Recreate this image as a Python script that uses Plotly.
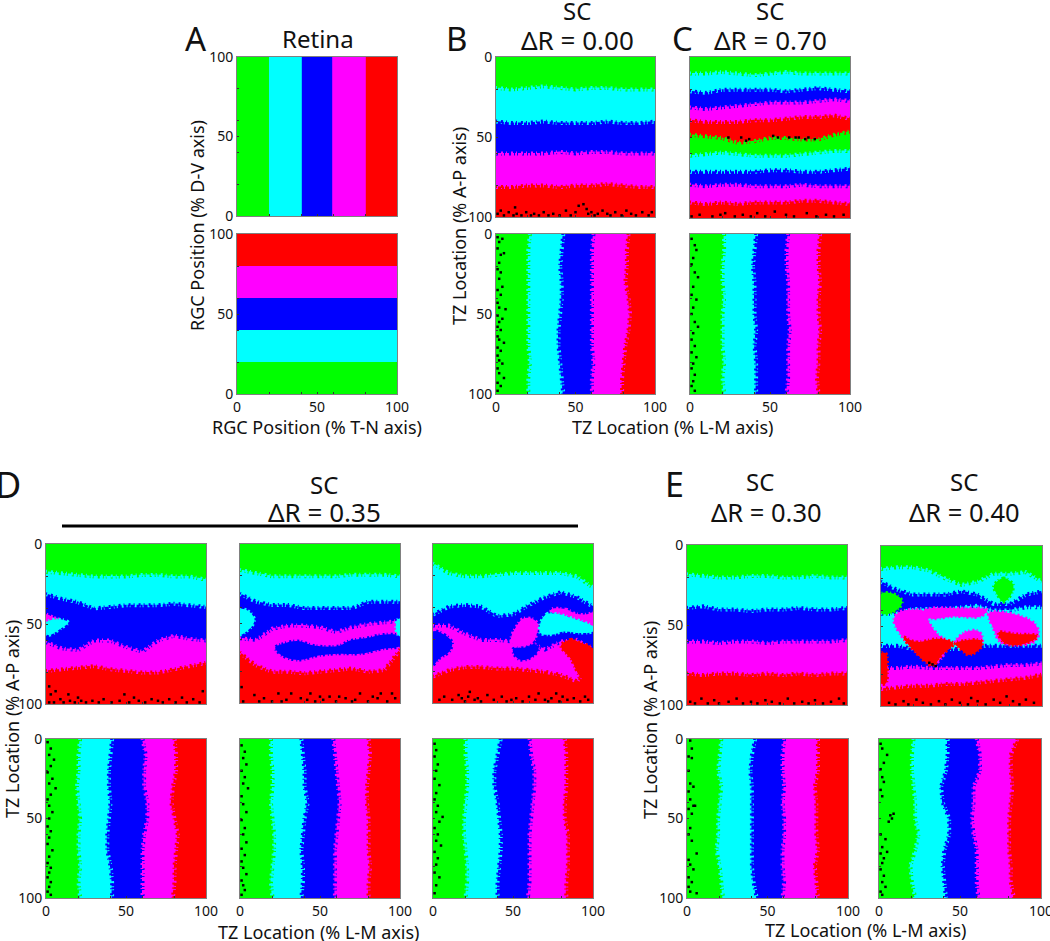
import plotly.graph_objects as go

# ---------- data (percent units) ----------
SAMPLE = [0, 10, 20, 30, 40, 50, 60, 70, 80, 90, 100]
G, C, B, M, R = "#00ff00", "#00ffff", "#0000ff", "#ff00ff", "#ff0000"
TICK_VALS = [0, 20, 40, 50, 60, 80, 100]
TICK_TEXT = ["0", "", "", "50", "", "", "100"]

A_TOP = [[20] * 11, [40.5] * 11, [59.5] * 11, [80.5] * 11]
A_BOT = [[20] * 11, [40] * 11, [60] * 11, [80] * 11]

B_TOP = [[19, 20, 19, 18, 19, 20, 19, 19, 20, 20, 20],
         [40, 41, 41, 40, 41, 41, 41, 40, 41, 41, 40],
         [60, 60, 60, 60, 59, 60, 59, 59, 60, 60, 60],
         [81, 81, 80, 80, 81, 80, 80, 79, 80, 81, 81]]
B_BOT = [[21, 20, 20, 20, 20, 20, 20, 20, 21, 20, 20],
         [42, 41, 40, 41, 41, 40, 39, 39, 40, 41, 42],
         [61, 60, 60, 60, 60, 60, 60, 60, 61, 60, 60],
         [83, 82, 82, 81, 83, 84, 83, 81, 80, 79, 79]]

C_TOP = [[10, 10, 9, 10, 11, 10, 9, 10, 10, 10, 10],
         [21, 22, 20, 20, 20, 20, 21, 20, 19, 20, 21],
         [31, 32, 31, 30, 29, 28, 28, 28, 27, 26, 27],
         [39, 40, 40, 40, 39, 39, 38, 37, 37, 36, 38],
         [48, 49, 50, 53, 52, 50, 50, 51, 51, 48, 46],
         [61, 60, 59, 60, 61, 61, 61, 60, 59, 58, 58],
         [71, 71, 71, 71, 71, 70, 70, 71, 71, 70, 69],
         [79, 80, 79, 79, 80, 80, 80, 79, 80, 80, 80],
         [90, 91, 90, 91, 90, 90, 90, 89, 89, 90, 91]]
C_BOT = [[21, 21, 20, 20, 21, 20, 20, 20, 21, 20, 21],
         [41, 40, 39, 40, 40, 40, 41, 40, 41, 41, 41],
         [61, 60, 60, 61, 61, 61, 62, 61, 61, 61, 60],
         [81, 80, 80, 81, 80, 80, 81, 80, 80, 79, 80]]

D1_TOP = [[17, 18, 19, 20, 20, 20, 19, 19, 20, 20, 22],
          [31, 34, 36, 40, 39, 38, 38, 38, 37, 38, 39],
          [61, 65, 66, 60, 60, 64, 67, 60, 57, 59, 60],
          [79, 78, 77, 76, 78, 79, 80, 80, 78, 76, 74]]
D1_ISLANDS = [(M, [0, 5, 8, 3, 0], [44, 46, 47, 49, 49]),
              (C, [0, 8, 14, 9, 2, 0], [49, 47, 49, 53, 57, 56])]
D1_BOT = [[21, 20, 20, 19, 20, 21, 20, 20, 21, 20, 21],
          [41, 40, 39, 39, 40, 39, 38, 38, 40, 41, 41],
          [60, 62, 61, 61, 63, 63, 61, 60, 60, 60, 60],
          [80, 81, 81, 79, 78, 80, 82, 81, 80, 80, 79]]

D2_TOP = [[16, 18, 20, 20, 20, 20, 20, 19, 19, 19, 20],
          [31, 36, 38, 38, 40, 40, 40, 40, 36, 36, 36],
          [59, 60, 53, 51, 51, 52, 55, 52, 50, 49, 48],
          [68, 76, 80, 80, 81, 80, 79, 78, 80, 79, 66]]
D2_ISLANDS = [(C, [0, 5, 9, 8, 4, 0], [41, 42, 47, 51, 55, 57]),
              (B, [22, 26, 36, 47, 62, 68, 80, 89, 100, 100, 89, 75, 62, 50, 36, 26],
                  [65, 63, 61, 64, 64, 61, 59, 57, 58, 64, 66, 69, 69, 70, 73, 70]),
              (C, [98, 100, 100, 98], [48, 47, 58, 56])]
D2_BOT = [[19, 19, 20, 20, 19, 20, 21, 21, 20, 19, 20],
          [38, 39, 40, 40, 42, 40, 39, 38, 39, 39, 38],
          [58, 59, 60, 61, 62, 61, 60, 59, 59, 59, 59],
          [80, 81, 80, 79, 79, 80, 80, 80, 81, 80, 80]]

D3_TOP = [[12, 18, 20, 20, 19, 18, 18, 18, 18, 20, 27],
          [44, 39, 38, 39, 45, 44, 38, 33, 30, 33, 39],
          [51, 51, 56, 60, 60, 61, 61, 66, 61, 60, 66],
          [83, 79, 77, 77, 78, 78, 79, 80, 82, 86, 72]]
D3_ISLANDS = [(B, [0, 7, 12, 10, 4, 0], [55, 57, 62, 68, 72, 76]),
              (B, [50, 56, 64, 66, 62, 55, 51], [66, 65, 63, 66, 71, 73, 70]),
              (M, [49, 52, 56, 62, 66, 65, 63, 58, 52, 49], [58, 52, 47, 47, 51, 56, 61, 64, 64, 62]),
              (M, [74, 83, 90, 97, 100, 100, 94, 85, 78, 74], [41, 41, 44, 44, 43, 52, 49, 46, 44, 43]),
              (C, [67, 71, 78, 85, 94, 100, 100, 92, 82, 74, 67], [50, 44, 44, 46, 49, 52, 55, 56, 55, 57, 56]),
              (R, [80, 86, 92, 100, 100, 93, 86], [64, 60, 62, 66, 82, 84, 72])]
D3_BOT = [[20, 20, 21, 21, 20, 19, 19, 20, 21, 21, 20],
          [42, 40, 38, 38, 40, 41, 42, 42, 41, 40, 40],
          [60, 61, 63, 63, 62, 61, 60, 60, 60, 60, 59],
          [82, 83, 83, 83, 82, 82, 84, 84, 84, 83, 83]]

E1_TOP = [[18, 19, 20, 20, 19, 19, 20, 20, 19, 20, 20],
          [39, 38, 40, 40, 41, 40, 40, 39, 40, 40, 39],
          [60, 60, 61, 60, 60, 61, 60, 60, 60, 60, 59],
          [80, 81, 80, 80, 81, 80, 81, 80, 81, 80, 80]]
E1_BOT = [[21, 20, 19, 21, 20, 19, 19, 18, 20, 21, 22],
          [42, 40, 39, 40, 40, 40, 40, 40, 40, 41, 43],
          [60, 59, 59, 60, 59, 60, 60, 59, 59, 60, 59],
          [81, 81, 81, 79, 80, 80, 80, 81, 79, 80, 81]]

E2_TOP = [[14, 13, 13, 15, 20, 24, 22, 17, 17, 16, 22],
          [22, 27, 30, 30, 30, 28, 30, 36, 36, 30, 28],
          [42, 42, 39, 39, 39, 38, 37, 40, 40, 38, 38],
          [62, 62, 64, 66, 64, 64, 62, 62, 62, 62, 62],
          [76, 76, 75, 76, 76, 76, 76, 75, 74, 74, 73],
          [89, 88, 87, 87, 86, 86, 85, 84, 83, 82, 80]]
E2_ISLANDS = [(G, [0, 8, 13, 12, 6, 0], [30, 30, 34, 38, 42, 42]),
              (G, [70, 76, 82, 81, 76, 72], [25, 20, 24, 30, 35, 30]),
              (M, [28, 50, 66, 62, 45, 30], [40, 39, 40, 44, 44, 45]),
              (M, [8, 12, 28, 30, 36, 42, 33, 24, 14], [46, 41, 41, 48, 56, 60, 74, 68, 58]),
              (R, [14, 22, 36, 45, 38, 32, 27], [57, 60, 58, 61, 68, 75, 72]),
              (M, [46, 52, 60, 63, 62, 52], [60, 54, 53, 57, 62, 62]),
              (R, [46, 52, 62, 63, 58, 54, 50], [61, 59, 59, 62, 67, 68, 65]),
              (M, [67, 80, 95, 98, 95, 84, 74, 70], [42, 42, 48, 55, 60, 62, 60, 52]),
              (R, [73, 84, 97, 96, 84, 76], [54, 55, 56, 58, 62, 60]),
              (R, [0, 3, 4, 3, 0], [67, 67, 76, 86, 86])]
E2_BOT = [[21, 20, 20, 21, 22, 22, 24, 22, 19, 20, 22],
          [42, 42, 41, 38, 39, 43, 43, 40, 39, 40, 41],
          [60, 62, 62, 58, 58, 57, 58, 60, 60, 60, 61],
          [85, 81, 81, 82, 81, 80, 80, 80, 81, 81, 83]]

B_TOP_DX = [1, 3, 5, 8, 11, 12, 13, 16, 19, 22, 24, 27, 30, 33, 36, 40, 44, 47, 50, 52, 55, 57, 58, 60, 62, 64, 67, 70, 72, 75, 79, 82, 85, 88, 92, 96, 98]
B_TOP_DY = [98, 96, 99, 97, 99, 94, 98, 99, 97, 99, 98, 99, 97, 99, 98, 99, 96, 99, 97, 93, 92, 95, 98, 97, 99, 98, 96, 98, 99, 97, 99, 96, 98, 99, 97, 99, 97]
B_BOT_DX = [1, 2, 4, 1, 3, 5, 2, 1, 3, 2, 4, 1, 3, 1, 2, 6, 1, 4, 2, 1, 3, 1, 2, 5, 1, 3, 1, 2, 4, 1, 2, 5, 1, 3, 1]
B_BOT_DY = [2, 5, 3, 9, 13, 12, 18, 22, 24, 28, 33, 35, 38, 43, 46, 47, 51, 53, 55, 58, 60, 64, 66, 68, 71, 73, 76, 79, 81, 84, 87, 90, 93, 95, 98]
C_TOP_DX = [1, 6, 14, 19, 22, 28, 33, 38, 42, 47, 53, 60, 65, 73, 79, 85, 90, 96, 24, 32, 35, 37, 52, 55, 62, 66, 68, 72, 74, 78]
C_TOP_DY = [99, 98, 99, 98, 97, 99, 98, 99, 97, 99, 96, 98, 99, 97, 99, 98, 99, 98, 50, 50, 52, 51, 49, 50, 50, 50, 50, 51, 50, 51]
C_BOT_DX = [1, 3, 4, 2, 1, 3, 5, 2, 1, 4, 2, 1, 3, 5, 2, 1, 3, 1, 4, 2, 1, 3, 2, 1, 3]
C_BOT_DY = [3, 7, 10, 15, 19, 24, 27, 33, 38, 41, 46, 50, 55, 58, 62, 66, 70, 74, 77, 81, 84, 88, 92, 95, 98]
D1_TOP_DX = [2, 3, 2, 5, 6, 9, 11, 14, 15, 18, 20, 22, 25, 29, 33, 36, 41, 46, 49, 52, 55, 58, 62, 66, 70, 73, 77, 81, 85, 88, 92, 96, 98]
D1_TOP_DY = [89, 94, 99, 99, 92, 97, 99, 94, 98, 99, 96, 98, 99, 98, 99, 97, 99, 98, 94, 99, 96, 98, 99, 97, 98, 99, 97, 99, 96, 99, 97, 99, 92]
D1_BOT_DX = [1, 3, 2, 5, 3, 1, 4, 2, 6, 3, 1, 2, 4, 2, 1, 3, 2, 1, 4, 2, 1, 3, 2, 1, 3, 2, 1, 3]
D1_BOT_DY = [2, 6, 10, 13, 17, 21, 25, 28, 31, 35, 38, 42, 46, 50, 55, 58, 62, 66, 70, 74, 78, 81, 84, 87, 90, 93, 96, 98]
D2_TOP_DX = [1, 2, 9, 15, 24, 26, 32, 38, 44, 47, 52, 56, 60, 66, 70, 75, 80, 86, 88, 92, 97, 12, 20, 29, 42, 50, 62, 72, 83, 95]
D2_TOP_DY = [90, 99, 95, 97, 94, 99, 94, 97, 94, 99, 98, 96, 99, 97, 99, 94, 99, 97, 94, 99, 97, 99, 99, 98, 98, 96, 96, 98, 96, 94]
D2_BOT_DX = [1, 3, 2, 4, 1, 3, 2, 5, 1, 2, 4, 1, 3, 2, 4, 1, 3, 1, 2, 4, 1, 2, 3, 1]
D2_BOT_DY = [4, 8, 12, 16, 20, 24, 28, 31, 36, 41, 46, 51, 56, 60, 65, 69, 73, 77, 81, 85, 89, 92, 95, 98]
D3_TOP_DX = [4, 7, 12, 16, 18, 20, 23, 28, 30, 34, 38, 43, 46, 49, 52, 56, 60, 64, 66, 70, 74, 77, 79, 81, 84, 88, 92, 95, 97, 22, 26, 72]
D3_TOP_DY = [98, 96, 98, 95, 97, 99, 93, 97, 99, 95, 98, 96, 99, 98, 97, 99, 96, 98, 94, 98, 97, 94, 99, 96, 98, 97, 99, 96, 98, 96, 98, 99]
D3_BOT_DX = [1, 2, 1, 3, 2, 1, 4, 2, 1, 3, 2, 6, 4, 1, 3, 2, 5, 1, 3, 2, 1, 4, 2, 1]
D3_BOT_DY = [3, 7, 11, 16, 20, 25, 29, 34, 38, 42, 46, 49, 52, 56, 60, 64, 67, 71, 75, 79, 84, 87, 92, 97]
E1_TOP_DX = [2, 5, 9, 13, 17, 20, 26, 31, 35, 40, 44, 49, 53, 58, 63, 67, 72, 76, 80, 85, 90, 95, 98]
E1_TOP_DY = [98, 99, 96, 99, 97, 99, 98, 96, 99, 98, 99, 97, 98, 99, 96, 99, 98, 99, 97, 99, 98, 96, 99]
E1_BOT_DX = [2, 3, 1, 3, 1, 2, 4, 1, 2, 4, 1, 3, 5, 2, 1, 3, 6, 1, 2, 4, 1, 3, 1, 2, 6]
E1_BOT_DY = [1, 6, 11, 12, 20, 28, 30, 33, 38, 42, 44, 47, 42, 56, 60, 64, 72, 76, 79, 82, 87, 90, 93, 96, 97]
E2_TOP_DX = [5, 9, 14, 17, 22, 26, 31, 36, 40, 44, 49, 54, 56, 60, 65, 70, 74, 78, 82, 86, 90, 95, 30, 32, 34]
E2_TOP_DY = [98, 99, 97, 99, 96, 98, 99, 97, 99, 96, 98, 99, 95, 97, 99, 96, 98, 94, 97, 99, 96, 98, 73, 74, 75]
E2_BOT_DX = [1, 2, 5, 3, 1, 2, 3, 1, 2, 7, 8, 6, 9, 1, 4, 2, 1, 3, 5, 2, 1, 3, 2, 4, 1, 2]
E2_BOT_DY = [3, 6, 10, 15, 19, 24, 27, 32, 36, 48, 50, 52, 47, 60, 63, 68, 72, 75, 71, 78, 82, 86, 90, 93, 96, 98]

GROUP_5 = [G, C, B, M, R]

# ---------- panel layout (pixels in the 1050 x 941 picture) ----------
W, H = 1050, 941
panels = [
    ((237, 397, 57, 216), "v", A_TOP, GROUP_5, [], ([], []), False, False, True, False),
    ((237, 397, 234, 394), "h", A_BOT, GROUP_5, [], ([], []), False, True, True, False),
    ((496, 655, 57, 217), "h", B_TOP, GROUP_5, [], (B_TOP_DX, B_TOP_DY), True, False, True, True),
    ((496, 655, 234, 394), "v", B_BOT, GROUP_5, [], (B_BOT_DX, B_BOT_DY), True, True, True, True),
    ((690, 850, 57, 218), "h", C_TOP, GROUP_5 + GROUP_5, [], (C_TOP_DX, C_TOP_DY), True, False, False, True),
    ((690, 850, 234, 394), "v", C_BOT, GROUP_5, [], (C_BOT_DX, C_BOT_DY), True, True, False, True),
    ((46, 206, 544, 704), "h", D1_TOP, GROUP_5, D1_ISLANDS, (D1_TOP_DX, D1_TOP_DY), True, False, True, True),
    ((46, 206, 739, 898), "v", D1_BOT, GROUP_5, [], (D1_BOT_DX, D1_BOT_DY), True, True, True, True),
    ((240, 400, 544, 703), "h", D2_TOP, GROUP_5, D2_ISLANDS, (D2_TOP_DX, D2_TOP_DY), True, False, False, True),
    ((240, 400, 739, 898), "v", D2_BOT, GROUP_5, [], (D2_BOT_DX, D2_BOT_DY), True, True, False, True),
    ((433, 593, 544, 703), "h", D3_TOP, GROUP_5, D3_ISLANDS, (D3_TOP_DX, D3_TOP_DY), True, False, False, True),
    ((433, 593, 739, 898), "v", D3_BOT, GROUP_5, [], (D3_BOT_DX, D3_BOT_DY), True, True, False, True),
    ((687, 847, 545, 705), "h", E1_TOP, GROUP_5, [], (E1_TOP_DX, E1_TOP_DY), True, False, True, True),
    ((687, 848, 739, 898), "v", E1_BOT, GROUP_5, [], (E1_BOT_DX, E1_BOT_DY), True, True, True, True),
    ((881, 1042, 546, 706), "h", E2_TOP, [G, C, B, C, B, M, R], E2_ISLANDS, (E2_TOP_DX, E2_TOP_DY), True, False, False, True),
    ((879, 1041, 739, 898), "v", E2_BOT, GROUP_5, [], (E2_BOT_DX, E2_BOT_DY), True, True, False, True),
]

FONT = "Noto Sans"
fig = go.Figure()
layout = {}

for i, (box, orient, bounds, cols, islands, dots, rev, showx, showy, speckle) in enumerate(panels, start=1):
    xa, ya = f"x{i}", f"y{i}"
    left, right, top, bottom = box
    common = dict(showgrid=False, zeroline=False, showline=True, mirror=True,
                  linecolor="#808080", linewidth=1, ticks="inside", ticklen=2, tickwidth=1,
                  tickcolor="#333333", tickmode="array", tickvals=TICK_VALS, ticklabeloverflow="allow",
                  tickfont=dict(family=FONT, size=14, color="#111111"), automargin=False)
    ax = dict(common); ax.update(domain=[left / W, right / W], range=[0, 100], anchor=ya,
                                 ticktext=TICK_TEXT if showx else [""] * 7)
    ay = dict(common); ay.update(domain=[1 - bottom / H, 1 - top / H], anchor=xa,
                                 range=[100, 0] if rev else [0, 100],
                                 ticktext=TICK_TEXT if showy else [""] * 7)
    layout[f"xaxis{i}"] = ax
    layout[f"yaxis{i}"] = ay

    def add(xs, ys, color, spline=False):
        line = dict(width=0)
        if spline:
            line = dict(width=3, color=color, shape="spline", smoothing=1.0, dash="2px,2px,1px,3px")
        fig.add_trace(go.Scatter(x=xs, y=ys, xaxis=xa, yaxis=ya, mode="lines", fill="toself",
                                 fillcolor=color, line=line, hoverinfo="skip", showlegend=False))

    add([0, 100, 100, 0], [0, 0, 100, 100], cols[0])
    for k, b in enumerate(bounds):
        col = cols[k + 1]
        if orient == "h":
            xs, ys = SAMPLE + [100, 0], b + [100, 100]
            lx, ly = SAMPLE, b
        else:
            xs, ys = b + [100, 100], SAMPLE + [100, 0]
            lx, ly = b, SAMPLE
        add(xs, ys, col)
        if speckle:
            fig.add_trace(go.Scatter(x=lx, y=ly, xaxis=xa, yaxis=ya, mode="lines",
                                     line=dict(color=cols[k], width=5, dash="2px,3px,1px,2px,1px,4px"),
                                     hoverinfo="skip", showlegend=False))
            fig.add_trace(go.Scatter(x=lx, y=ly, xaxis=xa, yaxis=ya, mode="lines",
                                     line=dict(color=col, width=3, dash="1px,4px,2px,3px"),
                                     hoverinfo="skip", showlegend=False))
    for col, ix, iy in islands:
        add(ix + ix[:1], iy + iy[:1], col, spline=True)
    if dots[0]:
        fig.add_trace(go.Scatter(x=dots[0], y=dots[1], xaxis=xa, yaxis=ya, mode="markers",
                                 marker=dict(symbol="square", size=2.5, color="#000000", line=dict(width=0)),
                                 hoverinfo="skip", showlegend=False))

TEXTS = [
    ("Retina", 318, 38, 24, 0), ("SC", 577, 10, 24, 0), ("\u0394R = 0.00", 577, 40, 26, 0),
    ("SC", 770, 10, 24, 0), ("\u0394R = 0.70", 770, 40, 26, 0),
    ("A", 196, 38, 33, 0), ("B", 456, 38, 33, 0), ("C", 682, 38, 33, 0),
    ("D", 8, 484, 36, 0), ("E", 674, 484, 34, 0),
    ("SC", 324, 484, 24, 0), ("\u0394R = 0.35", 324, 512, 26, 0),
    ("SC", 760, 481, 24, 0), ("\u0394R = 0.30", 766, 512, 25.5, 0),
    ("SC", 964, 481, 24, 0), ("\u0394R = 0.40", 964, 512, 25.5, 0),
    ("RGC Position (% T-N axis)", 317, 427, 18, 0), ("TZ Location (% L-M axis)", 672, 427, 18, 0),
    ("TZ Location (% L-M axis)", 318, 932, 18, 0), ("TZ Location (% L-M axis)", 865, 930, 18, 0),
    ("RGC Position (% D-V axis)", 197, 226, 18, -90), ("TZ Location (% A-P axis)", 459, 226, 18, -90),
    ("TZ Location (% A-P axis)", 12, 719, 18, -90), ("TZ Location (% A-P axis)", 650, 720, 18, -90),
]
annotations = [dict(text=t, x=px / W, y=1 - py / H, xref="paper", yref="paper", xanchor="center",
                    yanchor="middle", showarrow=False, textangle=ang,
                    font=dict(family=FONT, size=s, color="#111111"))
               for t, px, py, s, ang in TEXTS]

layout.update(width=W, height=H, margin=dict(l=0, r=0, t=0, b=0, autoexpand=False), paper_bgcolor="white",
              plot_bgcolor="white", annotations=annotations, showlegend=False,
              shapes=[dict(type="line", xref="paper", yref="paper", x0=62 / W, x1=578 / W,
                           y0=1 - 526 / H, y1=1 - 526 / H, line=dict(color="black", width=3))])
fig.update_layout(**layout)
fig.write_html("out.html", config={"displayModeBar": False}, post_script="document.body.style.margin='0';")
